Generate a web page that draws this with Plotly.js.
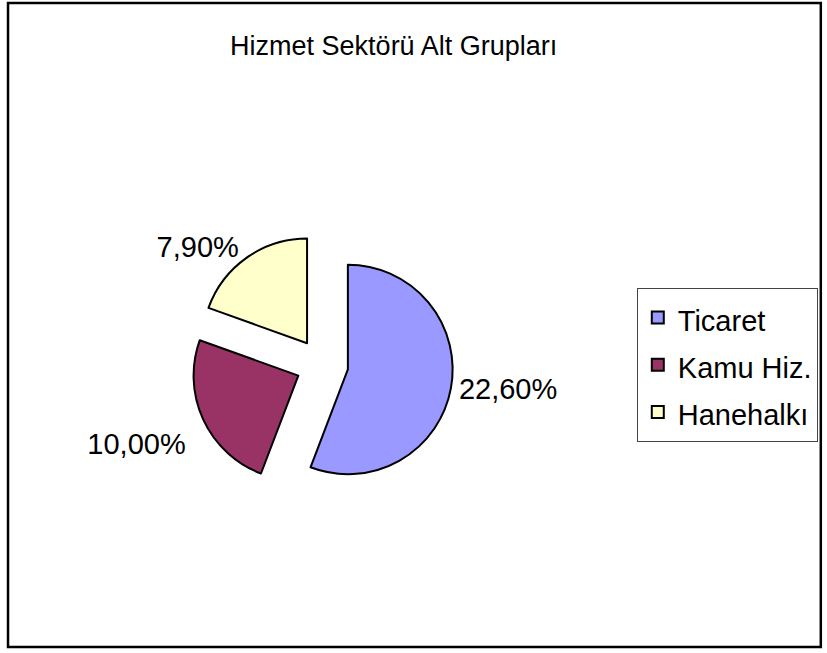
<!DOCTYPE html>
<html>
<head>
<meta charset="utf-8">
<script src="https://cdn.plot.ly/plotly-3.0.1.min.js"></script>
<style>html,body{margin:0;padding:0;background:#fff;}#chart{width:827px;height:653px;}</style>
</head>
<body>
<div id="chart"></div>
<script>
const chartTitle = "Hizmet Sektörü Alt Grupları";
const categories = ["Ticaret", "Kamu Hiz.", "Hanehalkı"];
const values = [22.6, 10.0, 7.9];
const colors = ["#9999FF", "#993366", "#FFFFCC"];

const valueTexts = values.map(v => v.toFixed(2).replace(".", ",") + "%");
// a leading blank line lowers the second label a little, as in the original
const labelTexts = valueTexts.map((t, i) => i === 1 ? "\u00a0<br>" + t : t);
const legendLabels = categories.map(c => '<span style="font-size:29px">' + c + '</span>');

const trace = {
  type: "pie",
  labels: legendLabels,
  values: values,
  text: labelTexts,
  textinfo: "text",
  textposition: "outside",
  outsidetextfont: {family: "Liberation Sans, Arial, sans-serif", size: 29, color: "#000"},
  sort: false,
  direction: "clockwise",
  rotation: 0,
  pull: [0.25, 0.25, 0.25],
  marker: {colors: colors, line: {color: "#000", width: 2}},
  domain: {x: [0.231, 0.548], y: [0.241, 0.642]},
  hoverinfo: "none"
};

const layout = {
  width: 827,
  height: 653,
  margin: {l: 0, r: 0, t: 0, b: 0},
  paper_bgcolor: "#fff",
  font: {family: "Liberation Sans, Arial, sans-serif", color: "#000"},
  title: {
    text: chartTitle,
    font: {family: "Liberation Sans, Arial, sans-serif", size: 27, color: "#000"},
    x: 0.476, xanchor: "center",
    y: 0.931, yanchor: "middle"
  },
  showlegend: true,
  legend: {
    x: 0.770, xanchor: "left",
    y: 0.559, yanchor: "top",
    bgcolor: "#fff",
    bordercolor: "#444",
    borderwidth: 1,
    font: {family: "Liberation Sans, Arial, sans-serif", size: 34, color: "#000"}
  },
  shapes: [{
    type: "rect", xref: "paper", yref: "paper",
    x0: 0.0097, x1: 0.9925, y0: 0.0092, y1: 0.9954,
    line: {color: "#000", width: 2.5}, fillcolor: "rgba(0,0,0,0)"
  }]
};

Plotly.newPlot("chart", [trace], layout, {displayModeBar: false, staticPlot: true});
</script>
</body>
</html>
